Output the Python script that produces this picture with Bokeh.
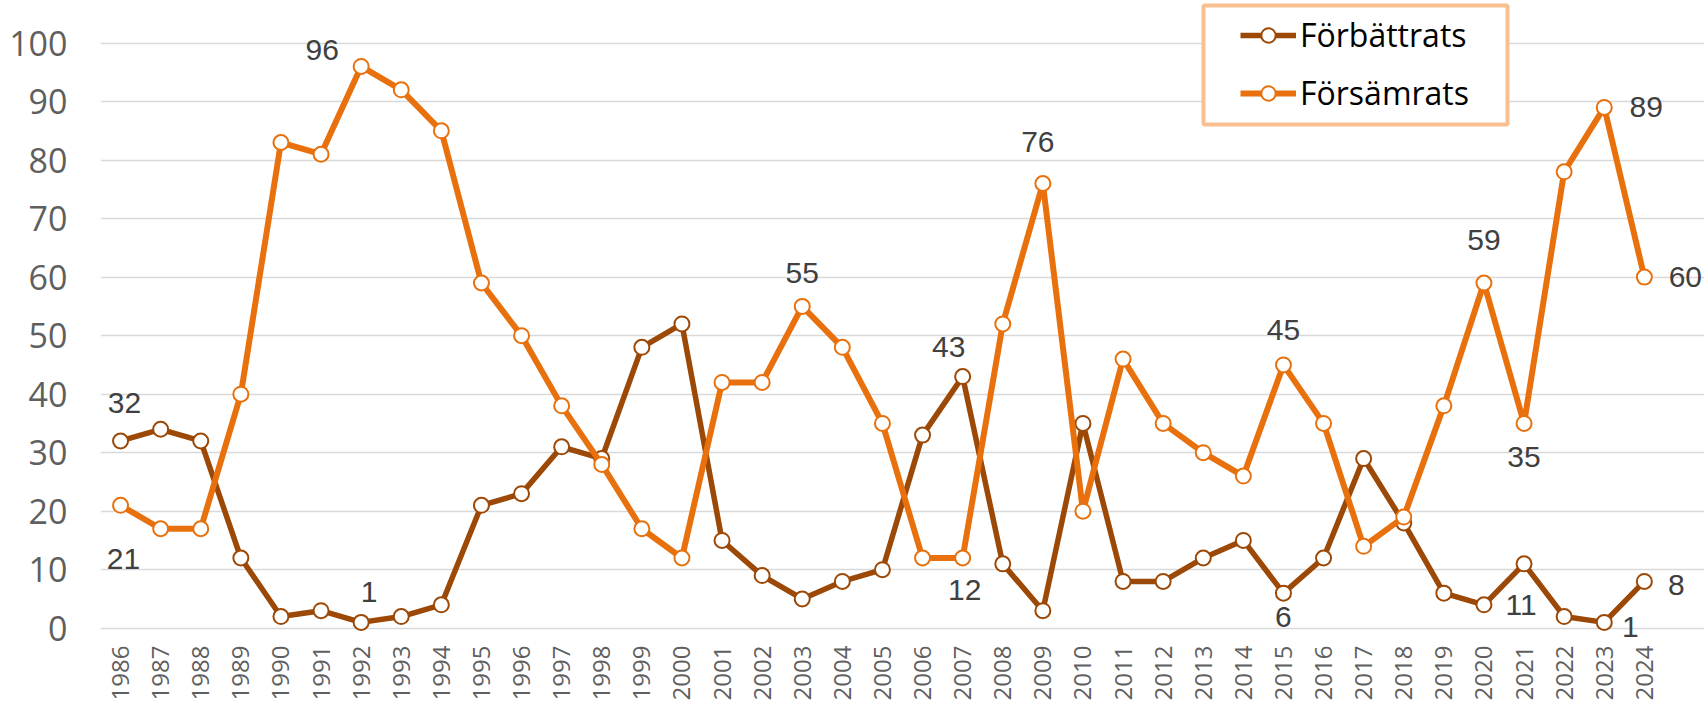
from bokeh.plotting import figure
from bokeh.models import ColumnDataSource, FixedTicker, Range1d, Legend, LegendItem, BoxAnnotation
from bokeh.core.properties import value
from bokeh.embed import file_html
from bokeh.resources import INLINE
import math

years = list(range(1986, 2025))
forbattrats = [32, 34, 32, 12, 2, 3, 1, 2, 4, 21, 23, 31, 29, 48, 52, 15, 9, 5, 8, 10,
               33, 43, 11, 3, 35, 8, 8, 12, 15, 6, 12, 29, 18, 6, 4, 11, 2, 1, 8]
forsamrats = [21, 17, 17, 40, 83, 81, 96, 92, 85, 59, 50, 38, 28, 17, 12, 42, 42, 55, 48, 35,
              12, 12, 52, 76, 20, 46, 35, 30, 26, 45, 35, 14, 19, 38, 59, 35, 78, 89, 60]
series_names = ["Förbättrats", "Försämrats"]
y_ticks = [0, 10, 20, 30, 40, 50, 60, 70, 80, 90, 100]

# which points carry a value label (year) and label placement (pixel offsets)
lab_forb_years = [1986, 1992, 2007, 2015, 2021, 2023, 2024]
lab_forb_dx = [4, 8, -14, 0, -3, 26, 32]
lab_forb_dy = [-38, -30, -30, 24, 41, 5, 4]
lab_fors_years = [1986, 1992, 2003, 2007, 2009, 2015, 2020, 2021, 2023, 2024]
lab_fors_dx = [3, -39, 0, 2, -5, 0, 0, 0, 42, 41]
lab_fors_dy = [54, -16, -33, 32, -41, -35, -43, 34, 0, 0]

BROWN = "#9C4806"
ORANGE = "#E8710E"

W, H = 1706, 703
p = figure(width=W, height=H, output_backend="svg", toolbar_location=None,
           title=None, x_range=Range1d(1985.5, 2025.5), y_range=Range1d(-2.95, 107.27),
           min_border_left=100, min_border_right=2, min_border_top=0, min_border_bottom=56)
p.outline_line_color = None
p.background_fill_color = "white"
p.border_fill_color = "white"

# axes
p.xaxis.ticker = FixedTicker(ticks=years)
p.xaxis.major_label_overrides = {y: str(y) for y in years}
p.xaxis.major_label_orientation = math.pi / 2
p.xaxis.major_label_text_font = "Open Sans"
p.xaxis.major_label_text_font_size = "24px"
p.xaxis.major_label_text_color = "#5f5f5f"
p.xaxis.major_label_standoff = 0
p.yaxis.ticker = FixedTicker(ticks=y_ticks)
p.yaxis.major_label_text_font = "Open Sans"
p.yaxis.major_label_text_font_size = "34px"
p.yaxis.major_label_text_color = "#5f5f5f"
p.yaxis.major_label_standoff = 33
for ax in (p.xaxis, p.yaxis):
    ax.axis_line_color = None
    ax.major_tick_line_color = None
    ax.minor_tick_line_color = None
    ax.major_tick_out = 0
    ax.major_tick_in = 0
    ax.minor_tick_out = 0
p.xgrid.grid_line_color = None
p.ygrid.grid_line_color = "#D9D9D9"
p.ygrid.grid_line_width = 1.5

src = ColumnDataSource(dict(x=years, f=forbattrats, s=forsamrats))

l1 = p.line("x", "f", source=src, line_color=BROWN, line_width=5.5, line_join="round")
m1 = p.scatter("x", "f", source=src, size=15, fill_color="white", line_color=BROWN, line_width=2)
l2 = p.line("x", "s", source=src, line_color=ORANGE, line_width=6, line_join="round")
m2 = p.scatter("x", "s", source=src, size=15, fill_color="white", line_color=ORANGE, line_width=2)

# value labels
def label_src(yrs, vals, dx, dy):
    v = [vals[years.index(y)] for y in yrs]
    return ColumnDataSource(dict(x=yrs, y=v, t=[str(a) for a in v], dx=dx, dy=dy))

for s in (label_src(lab_forb_years, forbattrats, lab_forb_dx, lab_forb_dy),
          label_src(lab_fors_years, forsamrats, lab_fors_dx, lab_fors_dy)):
    p.text("x", "y", text="t", source=s, x_offset="dx", y_offset="dy",
           text_font=value("Liberation Sans"), text_font_size="30px", text_color="#404040",
           text_align="center", text_baseline="middle")

# legend frame (screen units, relative to plot-frame bottom-left)
box = BoxAnnotation(left=1103, right=1407, bottom=521, top=640,
                    left_units="screen", right_units="screen",
                    bottom_units="screen", top_units="screen",
                    fill_color="white", fill_alpha=1.0,
                    line_color="#F9C08F", line_width=4, line_alpha=1.0)
p.add_layout(box)

legend = Legend(items=[LegendItem(label=series_names[0], renderers=[l1, m1]),
                       LegendItem(label=series_names[1], renderers=[l2, m2])],
                location=(1140, 531))
legend.label_text_font = "Open Sans"
legend.label_text_font_size = "32px"
legend.label_text_color = "black"
legend.glyph_width = 56
legend.glyph_height = 36
legend.label_height = 36
legend.label_standoff = 4
legend.spacing = 15
legend.padding = 0
legend.margin = 0
legend.border_line_color = None
legend.background_fill_alpha = 0
p.add_layout(legend, "center")

open("out.html", "w").write(file_html(p, INLINE))
